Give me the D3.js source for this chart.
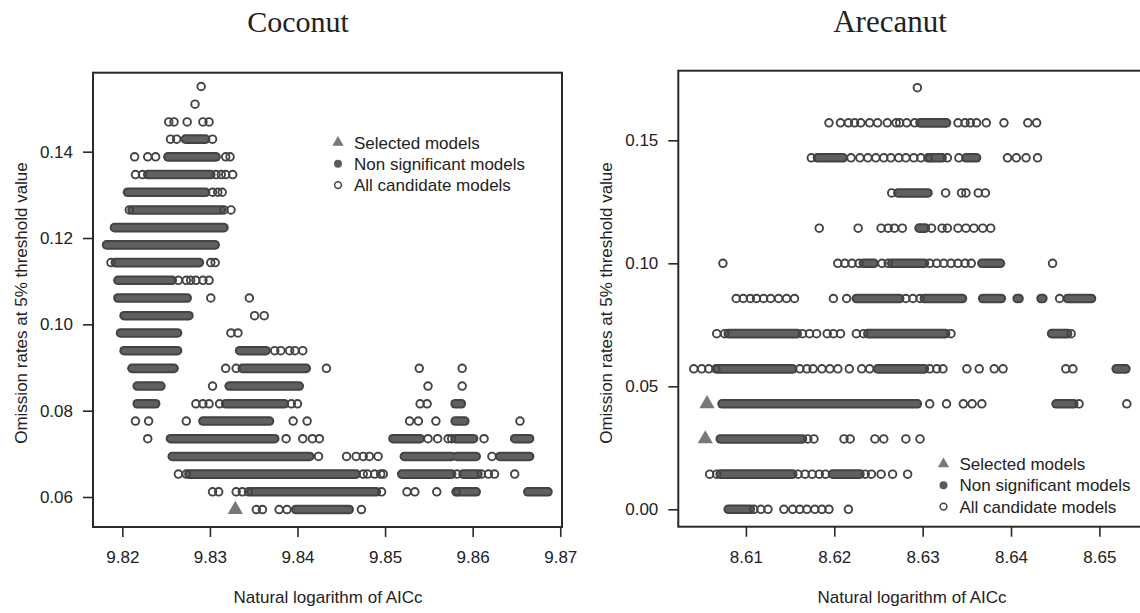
<!doctype html>
<html>
<head>
<meta charset="utf-8">
<title>Coconut / Arecanut model selection</title>
<script src="https://d3js.org/d3.v7.min.js"></script>
<style>
  body { margin: 0; background: #fff; }
  text { font-family: "Liberation Sans", Arial, sans-serif; fill: #222; }
  .title { font-family: "Liberation Serif", "Times New Roman", serif; }
</style>
</head>
<body>
<script>
// ---- Coconut ----
// open circles: [omission rate, [AICc values]]
var coconutOpen = [
  [0.1551, [9.8290]],
  [0.1510, [9.8283]],
  [0.1469, [9.8253, 9.8259, 9.8274, 9.8292, 9.8299]],
  [0.1429, [9.8255, 9.8262, 9.8303]],
  [0.1388, [9.8214, 9.8229, 9.8238, 9.8318, 9.8323]],
  [0.1347, [9.8215, 9.8223, 9.8307, 9.8313, 9.8318, 9.8326]],
  [0.1306, [9.8303, 9.8309, 9.8314]],
  [0.1265, [9.8208, 9.8316, 9.8324]],
  [0.1143, [9.8187, 9.8301, 9.8306]],
  [0.1102, [9.8264, 9.8273, 9.8278, 9.8284, 9.8292, 9.8299]],
  [0.1061, [9.8301, 9.8345]],
  [0.1020, [9.8351, 9.8362]],
  [0.0980, [9.8324, 9.8332]],
  [0.0939, [9.8374, 9.8381, 9.8391, 9.8397, 9.8406]],
  [0.0898, [9.8318, 9.8330, 9.8433, 9.8539, 9.8588]],
  [0.0857, [9.8303, 9.8549, 9.8588]],
  [0.0816, [9.8284, 9.8292, 9.8299, 9.8311, 9.8393, 9.8400, 9.8540, 9.8548]],
  [0.0776, [9.8215, 9.8230, 9.8273, 9.8395, 9.8411, 9.8528, 9.8538, 9.8558, 9.8654]],
  [0.0735, [9.8229, 9.8387, 9.8406, 9.8417, 9.8425, 9.8549, 9.8560, 9.8572, 9.8576, 9.8613]],
  [0.0694, [9.8424, 9.8456, 9.8467, 9.8475, 9.8482, 9.8492, 9.8622]],
  [0.0653, [9.8264, 9.8273, 9.8475, 9.8480, 9.8488, 9.8495, 9.8498, 9.8582, 9.8610, 9.8618, 9.8625, 9.8648]],
  [0.0612, [9.8303, 9.8310, 9.8330, 9.8337, 9.8344, 9.8496, 9.8525, 9.8534, 9.8559, 9.8581]],
  [0.0571, [9.8353, 9.8360, 9.8379, 9.8388, 9.8473]]
];
// dense runs of non significant models: [omission rate, from AICc, to AICc]
var coconutRuns = [
  [0.1429, 9.8272, 9.8295],
  [0.1388, 9.8252, 9.8307],
  [0.1347, 9.8229, 9.8301],
  [0.1306, 9.8206, 9.8295],
  [0.1265, 9.8211, 9.8313],
  [0.1224, 9.8191, 9.8316],
  [0.1184, 9.8182, 9.8306],
  [0.1143, 9.8192, 9.8288],
  [0.1102, 9.8195, 9.8257],
  [0.1061, 9.8195, 9.8274],
  [0.1020, 9.8202, 9.8276],
  [0.0980, 9.8198, 9.8263],
  [0.0939, 9.8202, 9.8263], [0.0939, 9.8334, 9.8364],
  [0.0898, 9.8211, 9.8259], [0.0898, 9.8337, 9.8410],
  [0.0857, 9.8217, 9.8244], [0.0857, 9.8322, 9.8402],
  [0.0816, 9.8217, 9.8238], [0.0816, 9.8318, 9.8385], [0.0816, 9.8580, 9.8587],
  [0.0776, 9.8292, 9.8368], [0.0776, 9.8580, 9.8591],
  [0.0735, 9.8255, 9.8374], [0.0735, 9.8509, 9.8540], [0.0735, 9.8580, 9.8601], [0.0735, 9.8648, 9.8665],
  [0.0694, 9.8257, 9.8414], [0.0694, 9.8522, 9.8576], [0.0694, 9.8582, 9.8604], [0.0694, 9.8631, 9.8665],
  [0.0653, 9.8276, 9.8467], [0.0653, 9.8519, 9.8576], [0.0653, 9.8589, 9.8606],
  [0.0612, 9.8347, 9.8490], [0.0612, 9.8583, 9.8604], [0.0612, 9.8663, 9.8686],
  [0.0571, 9.8398, 9.8459]
];
var coconutSelected = [[9.8329, 0.0571]];
var coconutXTicks = [9.82, 9.83, 9.84, 9.85, 9.86, 9.87];
var coconutYTicks = [0.06, 0.08, 0.10, 0.12, 0.14];

// ---- Arecanut ----
var arecanutOpen = [
  [0.1714, [8.6294]],
  [0.1571, [8.6194, 8.6207, 8.6216, 8.6223, 8.6230, 8.6240, 8.6249, 8.6260, 8.6270, 8.6274, 8.6282, 8.6291, 8.6340, 8.6348, 8.6354, 8.6361, 8.6372, 8.6392, 8.6419, 8.6429]],
  [0.1429, [8.6174, 8.6219, 8.6229, 8.6238, 8.6247, 8.6256, 8.6264, 8.6273, 8.6281, 8.6290, 8.6298, 8.6306, 8.6328, 8.6341, 8.6396, 8.6406, 8.6417, 8.6430]],
  [0.1286, [8.6265, 8.6326, 8.6344, 8.6349, 8.6363, 8.6371]],
  [0.1143, [8.6183, 8.6227, 8.6253, 8.6261, 8.6268, 8.6277, 8.6310, 8.6322, 8.6328, 8.6340, 8.6349, 8.6358, 8.6368, 8.6377]],
  [0.1000, [8.6074, 8.6204, 8.6212, 8.6220, 8.6228, 8.6254, 8.6261, 8.6308, 8.6316, 8.6324, 8.6332, 8.6340, 8.6348, 8.6355, 8.6447]],
  [0.0857, [8.6089, 8.6097, 8.6105, 8.6112, 8.6120, 8.6128, 8.6137, 8.6146, 8.6155, 8.6199, 8.6214, 8.6281, 8.6289, 8.6297, 8.6455]],
  [0.0714, [8.6067, 8.6076, 8.6164, 8.6172, 8.6180, 8.6192, 8.6199, 8.6207, 8.6225, 8.6233, 8.6332, 8.6468]],
  [0.0571, [8.6041, 8.6050, 8.6058, 8.6066, 8.6161, 8.6169, 8.6176, 8.6186, 8.6195, 8.6204, 8.6217, 8.6231, 8.6240, 8.6308, 8.6316, 8.6323, 8.6350, 8.6364, 8.6381, 8.6391, 8.6462, 8.6470]],
  [0.0429, [8.6308, 8.6327, 8.6346, 8.6356, 8.6367, 8.6477, 8.6531]],
  [0.0286, [8.6170, 8.6177, 8.6211, 8.6218, 8.6246, 8.6256, 8.6281, 8.6297]],
  [0.0143, [8.6059, 8.6067, 8.6159, 8.6167, 8.6175, 8.6183, 8.6190, 8.6235, 8.6242, 8.6253, 8.6266, 8.6283]],
  [0.0000, [8.6109, 8.6117, 8.6125, 8.6143, 8.6153, 8.6161, 8.6169, 8.6178, 8.6186, 8.6194, 8.6216]]
];
var arecanutRuns = [
  [0.1571, 8.6297, 8.6327],
  [0.1429, 8.6181, 8.6210], [0.1429, 8.6308, 8.6322], [0.1429, 8.6349, 8.6361],
  [0.1286, 8.6272, 8.6306],
  [0.1143, 8.6296, 8.6303],
  [0.1000, 8.6233, 8.6245], [0.1000, 8.6265, 8.6302], [0.1000, 8.6367, 8.6388],
  [0.0857, 8.6225, 8.6274], [0.0857, 8.6302, 8.6345], [0.0857, 8.6368, 8.6389],
  [0.0857, 8.6407, 8.6409], [0.0857, 8.6434, 8.6436], [0.0857, 8.6464, 8.6491],
  [0.0714, 8.6080, 8.6158], [0.0714, 8.6238, 8.6326], [0.0714, 8.6446, 8.6464],
  [0.0571, 8.6068, 8.6153], [0.0571, 8.6249, 8.6302], [0.0571, 8.6519, 8.6530],
  [0.0429, 8.6073, 8.6294], [0.0429, 8.6451, 8.6471],
  [0.0286, 8.6071, 8.6164],
  [0.0143, 8.6071, 8.6153], [0.0143, 8.6198, 8.6229],
  [0.0000, 8.6080, 8.6105]
];
var arecanutSelected = [[8.6056, 0.0429], [8.6054, 0.0286]];
var arecanutXTicks = [8.61, 8.62, 8.63, 8.64, 8.65];
var arecanutYTicks = [0.00, 0.05, 0.10, 0.15];

var legendLabels = ["Selected models", "Non significant models", "All candidate models"];

var ink = "#434343", runInk = "#606060", triInk = "#787878";

var svg = d3.select("body").append("svg")
    .attr("width", 1140)
    .attr("height", 613);

drawPanel({
  title: "Coconut", titleX: 298, titleSize: 30,
  left: 93, right: 562, top: 72.7, bottom: 527,
  xDomain: [9.81665, 9.8702], yDomain: [0.05305, 0.1583],
  xTicks: coconutXTicks, yTicks: coconutYTicks,
  open: coconutOpen, runs: coconutRuns, selected: coconutSelected,
  yTitleX: 27, xTitleX: 328,
  legendX: 338, legendY: 142.5
});

drawPanel({
  title: "Arecanut", titleX: 890, titleSize: 31,
  left: 678.3, right: 1148, top: 70.7, bottom: 526.7,
  xDomain: [8.60235, 8.6555], yDomain: [-0.00707, 0.1783],
  xTicks: arecanutXTicks, yTicks: arecanutYTicks,
  open: arecanutOpen, runs: arecanutRuns, selected: arecanutSelected,
  yTitleX: 612, xTitleX: 912,
  legendX: 943.5, legendY: 464
});

function drawPanel(p) {
  var x = d3.scaleLinear().domain(p.xDomain).range([p.left, p.right]);
  var y = d3.scaleLinear().domain(p.yDomain).range([p.bottom, p.top]);
  var g = svg.append("g");

  g.append("text")
      .attr("class", "title")
      .attr("x", p.titleX)
      .attr("y", 32)
      .attr("text-anchor", "middle")
      .style("font-size", p.titleSize + "px")
      .text(p.title);

  // axes
  var yAxis = d3.axisLeft(y)
      .tickValues(p.yTicks)
      .tickSize(10)
      .tickSizeOuter(0)
      .tickPadding(10)
      .tickFormat(d3.format(".2f"));

  var xAxis = d3.axisBottom(x)
      .tickValues(p.xTicks)
      .tickSize(10)
      .tickSizeOuter(0)
      .tickPadding(14)
      .tickFormat(d3.format(".2f"));

  g.append("g")
      .attr("transform", "translate(" + p.left + ",0)")
      .call(yAxis)
      .call(styleAxis);

  g.append("g")
      .attr("transform", "translate(0," + p.bottom + ")")
      .call(xAxis)
      .call(styleAxis);

  g.append("text")
      .attr("transform", "translate(" + p.yTitleX + "," + 303 + ") rotate(-90)")
      .attr("text-anchor", "middle")
      .style("font-size", "17px")
      .text("Omission rates at 5% threshold value");

  g.append("text")
      .attr("x", p.xTitleX)
      .attr("y", 603)
      .attr("text-anchor", "middle")
      .style("font-size", "17px")
      .text("Natural logarithm of AICc");

  // points
  var points = p.open.flatMap(function(r){
    return r[1].map(function(v){ return [v, r[0]]; });
  });

  var runs = g.append("g");
  runs.selectAll(".run-out")
    .data(p.runs)
    .enter().append("line")
      .attr("class", "run-out")
      .attr("x1", function(d){ return x(d[1]); })
      .attr("x2", function(d){ return x(d[2]); })
      .attr("y1", function(d){ return y(d[0]); })
      .attr("y2", function(d){ return y(d[0]); })
      .attr("stroke", ink)
      .attr("stroke-width", 9.6)
      .attr("stroke-linecap", "round");

  runs.selectAll(".run-in")
    .data(p.runs)
    .enter().append("line")
      .attr("class", "run-in")
      .attr("x1", function(d){ return x(d[1]); })
      .attr("x2", function(d){ return x(d[2]); })
      .attr("y1", function(d){ return y(d[0]); })
      .attr("y2", function(d){ return y(d[0]); })
      .attr("stroke", runInk)
      .attr("stroke-width", 5.6)
      .attr("stroke-linecap", "round");

  g.append("g").selectAll("circle")
    .data(points)
    .enter().append("circle")
      .attr("cx", function(d){ return x(d[0]); })
      .attr("cy", function(d){ return y(d[1]); })
      .attr("r", 3.8)
      .attr("fill", "none")
      .attr("stroke", ink)
      .attr("stroke-width", 1.9);

  g.append("g").selectAll("path")
    .data(p.selected)
    .enter().append("path")
      .attr("transform", function(d){ return "translate(" + x(d[0]) + "," + y(d[1]) + ")"; })
      .attr("d", d3.symbol(d3.symbolTriangle).size(100))
      .attr("fill", triInk);

  // box
  g.append("rect")
      .attr("x", p.left)
      .attr("y", p.top)
      .attr("width", p.right - p.left)
      .attr("height", p.bottom - p.top)
      .attr("fill", "none")
      .attr("stroke", "#2a2a2a")
      .attr("stroke-width", 2);

  // legend
  var leg = g.append("g").attr("transform", "translate(" + p.legendX + "," + p.legendY + ")");
  leg.append("path")
      .attr("d", d3.symbol(d3.symbolTriangle).size(55))
      .attr("fill", triInk);
  leg.append("circle")
      .attr("cy", 21.3)
      .attr("r", 4)
      .attr("fill", "#5a5a5a");
  leg.append("circle")
      .attr("cy", 42.6)
      .attr("r", 3.4)
      .attr("fill", "none")
      .attr("stroke", ink)
      .attr("stroke-width", 1.5);
  leg.selectAll("text")
    .data(legendLabels)
    .enter().append("text")
      .attr("x", 16)
      .attr("y", function(d, i){ return i * 21.3; })
      .attr("dy", "0.36em")
      .style("font-size", "17px")
      .text(function(d){ return d; });
}

function styleAxis(sel) {
  sel.select(".domain").remove();
  sel.selectAll(".tick line").attr("stroke", "#2a2a2a").attr("stroke-width", 1.6);
  sel.selectAll(".tick text")
      .attr("fill", "#222")
      .style("font-size", "17px")
      .style("font-family", "'Liberation Sans', Arial, sans-serif");
}
</script>
</body>
</html>
